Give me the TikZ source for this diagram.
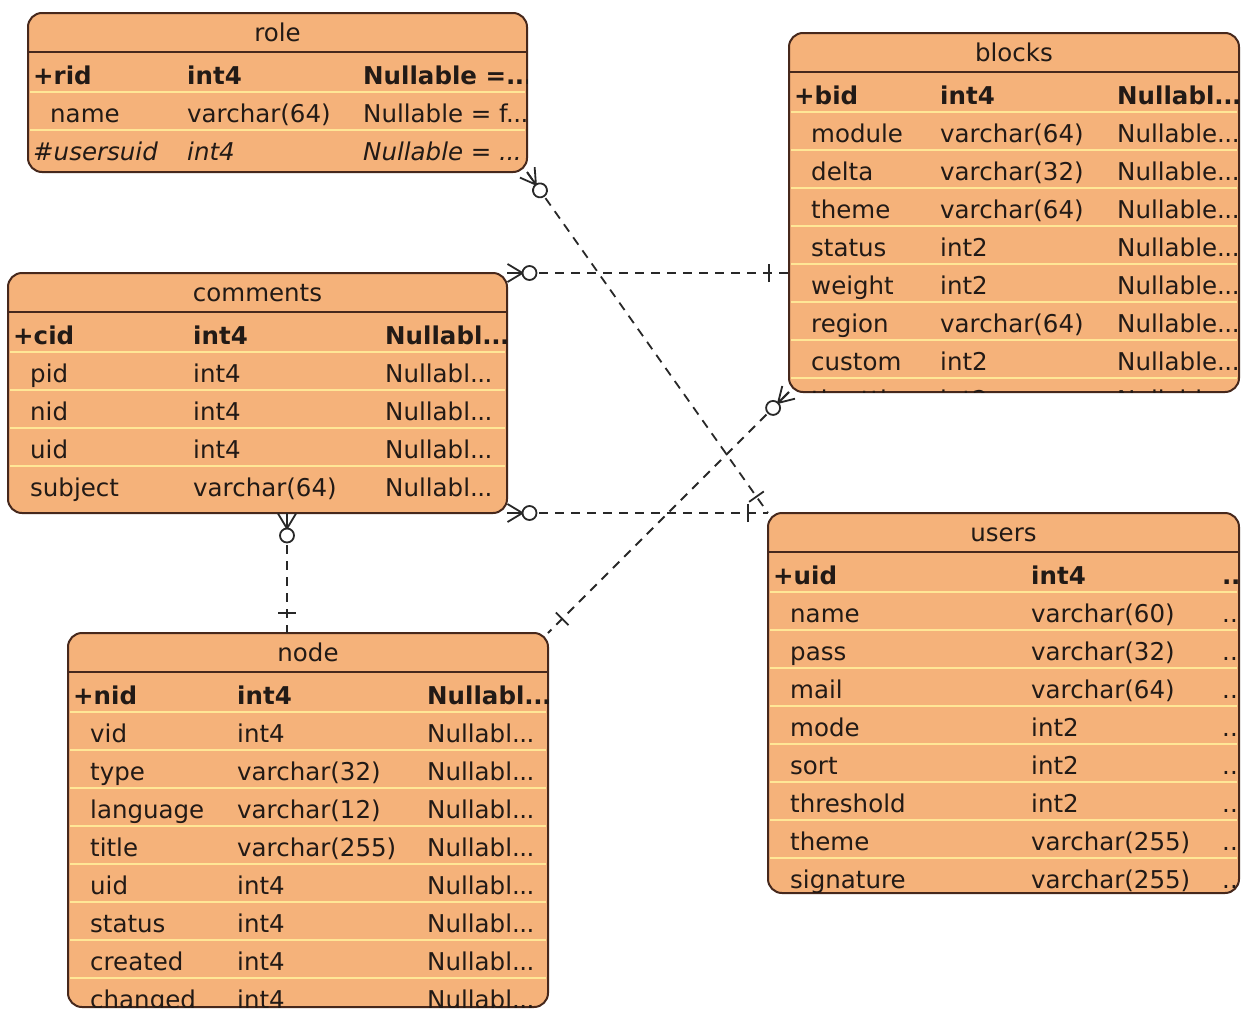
\documentclass[tikz,border=0pt]{standalone}
\usepackage{fontspec}
\setmainfont{DejaVu Sans}
\usetikzlibrary{positioning,calc,decorations.markings}

\definecolor{tblfill}{RGB}{245,178,122}
\definecolor{tbledge}{RGB}{70,40,28}
\definecolor{rowsep}{RGB}{255,230,150}
\definecolor{ink}{RGB}{34,26,22}
\definecolor{relink}{RGB}{40,40,40}

\newcommand\cellfont{\fontsize{24.5}{29}\selectfont}
\newcommand\dd{.\kern-0.5pt.\kern-0.5pt.}

% table title and the line under it
\newcommand\tbltitle[2]{%
  \node[ttl] (#1-t) at ([yshift=-28pt]#1.north) {#2};
  \draw[hline] ([yshift=-39pt]#1.north west) -- ([yshift=-39pt]#1.north east);}
% primary key row
\newcommand\tblkey[6]{%
  \node[cell,font=\cellfont\bfseries] (#1-1a) at ([xshift=5pt,yshift=-71pt]#1.north west) {#4};
  \node[cell,font=\cellfont\bfseries] (#1-1b) at ([xshift=#2pt,yshift=-71pt]#1.north west) {#5};
  \node[cell,font=\cellfont\bfseries] (#1-1c) at ([xshift=#3pt,yshift=-71pt]#1.north west) {#6};}
% any other row, with the light line above it
\newcommand\tblrow[9]{%
  \draw[rline] ([xshift=2pt,yshift={-3pt-38pt*#2}]#1.north west) -- ([xshift=-2pt,yshift={-3pt-38pt*#2}]#1.north east);
  \node[cell,#3] (#1-#2a) at ([xshift=#4pt,yshift={-33pt-38pt*#2}]#1.north west) {#7};
  \node[cell,#3] (#1-#2b) at ([xshift=#5pt,yshift={-33pt-38pt*#2}]#1.north west) {#8};
  \node[cell,#3] (#1-#2c) at ([xshift=#6pt,yshift={-33pt-38pt*#2}]#1.north west) {#9};}

\begin{document}
\begin{tikzpicture}[x=1pt, y=-1pt,
  tbl/.style={draw=tbledge, fill=tblfill, line width=2pt, rounded corners=14pt,
    anchor=north west, inner sep=0pt, outer sep=0pt},
  ttl/.style={anchor=base, inner sep=0pt, text=ink, font=\cellfont},
  cell/.style={anchor=base west, inner sep=0pt, text=ink, font=\cellfont},
  hline/.style={draw=tbledge, line width=2pt},
  rline/.style={draw=rowsep, line width=2pt},
  rel/.style={draw=relink, line width=1.8pt, dash pattern=on 9pt off 7pt},
  crow/.style={postaction={decorate, decoration={markings, mark=at position 0.5pt with {
    \draw[solid, line width=1.8pt] (0pt,9pt) -- (15pt,0pt) -- (0pt,-9pt) (0pt,0pt) -- (15pt,0pt);
    \draw[solid, line width=1.8pt, fill=white] (22pt,0pt) circle (7pt);}}}},
  onebar/.style={postaction={decorate, decoration={markings, mark=at position -20pt with {
    \draw[solid, line width=1.8pt] (0pt,-9pt) -- (0pt,9pt);}}}}]

\fill[white] (0,0) rectangle (1241,1009);
\useasboundingbox (0,0) rectangle (1241,1009);
\clip (0,0) rectangle (1241,1009);

% role
\node[tbl, minimum width=499pt, minimum height=159pt] (role) at (28,13) {};
\begin{scope}
\clip[rounded corners=14pt] (role.south west) rectangle (role.north east);
\tbltitle{role}{role}
\tblkey{role}{159}{335}{+rid}{int4}{Nullable =\dd}
\tblrow{role}{2}{}{22}{159}{335}{name}{varchar(64)}{Nullable = f\dd}
\tblrow{role}{3}{font=\cellfont\itshape}{5}{159}{335}{\#usersuid}{int4}{Nullable = \dd}
\end{scope}

% blocks
\node[tbl, minimum width=450pt, minimum height=359pt] (blocks) at (789,33) {};
\begin{scope}
\clip[rounded corners=14pt] (blocks.south west) rectangle (blocks.north east);
\tbltitle{blocks}{blocks}
\tblkey{blocks}{151}{328}{+bid}{int4}{Nullabl\dd}
\tblrow{blocks}{2}{}{22}{151}{328}{module}{varchar(64)}{Nullable\dd}
\tblrow{blocks}{3}{}{22}{151}{328}{delta}{varchar(32)}{Nullable\dd}
\tblrow{blocks}{4}{}{22}{151}{328}{theme}{varchar(64)}{Nullable\dd}
\tblrow{blocks}{5}{}{22}{151}{328}{status}{int2}{Nullable\dd}
\tblrow{blocks}{6}{}{22}{151}{328}{weight}{int2}{Nullable\dd}
\tblrow{blocks}{7}{}{22}{151}{328}{region}{varchar(64)}{Nullable\dd}
\tblrow{blocks}{8}{}{22}{151}{328}{custom}{int2}{Nullable\dd}
\tblrow{blocks}{9}{}{22}{151}{328}{throttle}{int2}{Nullable\dd}
\end{scope}

% comments
\node[tbl, minimum width=499pt, minimum height=240pt] (comments) at (8,273) {};
\begin{scope}
\clip[rounded corners=14pt] (comments.south west) rectangle (comments.north east);
\tbltitle{comments}{comments}
\tblkey{comments}{185}{377}{+cid}{int4}{Nullabl\dd}
\tblrow{comments}{2}{}{22}{185}{377}{pid}{int4}{Nullabl\dd}
\tblrow{comments}{3}{}{22}{185}{377}{nid}{int4}{Nullabl\dd}
\tblrow{comments}{4}{}{22}{185}{377}{uid}{int4}{Nullabl\dd}
\tblrow{comments}{5}{}{22}{185}{377}{subject}{varchar(64)}{Nullabl\dd}
\end{scope}

% node
\node[tbl, minimum width=480pt, minimum height=374pt] (node) at (68,633) {};
\begin{scope}
\clip[rounded corners=14pt] (node.south west) rectangle (node.north east);
\tbltitle{node}{node}
\tblkey{node}{169}{359}{+nid}{int4}{Nullabl\dd}
\tblrow{node}{2}{}{22}{169}{359}{vid}{int4}{Nullabl\dd}
\tblrow{node}{3}{}{22}{169}{359}{type}{varchar(32)}{Nullabl\dd}
\tblrow{node}{4}{}{22}{169}{359}{language}{varchar(12)}{Nullabl\dd}
\tblrow{node}{5}{}{22}{169}{359}{title}{varchar(255)}{Nullabl\dd}
\tblrow{node}{6}{}{22}{169}{359}{uid}{int4}{Nullabl\dd}
\tblrow{node}{7}{}{22}{169}{359}{status}{int4}{Nullabl\dd}
\tblrow{node}{8}{}{22}{169}{359}{created}{int4}{Nullabl\dd}
\tblrow{node}{9}{}{22}{169}{359}{changed}{int4}{Nullabl\dd}
\end{scope}

% users
\node[tbl, minimum width=471pt, minimum height=380pt] (users) at (768,513) {};
\begin{scope}
\clip[rounded corners=14pt] (users.south west) rectangle (users.north east);
\tbltitle{users}{users}
\tblkey{users}{263}{454}{+uid}{int4}{\dd}
\tblrow{users}{2}{}{22}{263}{454}{name}{varchar(60)}{..}
\tblrow{users}{3}{}{22}{263}{454}{pass}{varchar(32)}{..}
\tblrow{users}{4}{}{22}{263}{454}{mail}{varchar(64)}{..}
\tblrow{users}{5}{}{22}{263}{454}{mode}{int2}{..}
\tblrow{users}{6}{}{22}{263}{454}{sort}{int2}{..}
\tblrow{users}{7}{}{22}{263}{454}{threshold}{int2}{..}
\tblrow{users}{8}{}{22}{263}{454}{theme}{varchar(255)}{..}
\tblrow{users}{9}{}{22}{263}{454}{signature}{varchar(255)}{..}
\end{scope}

% relations
\draw[rel, crow, onebar] (role.south east) -- (users.north west);
\draw[rel, crow, onebar] (comments.north east) -- (comments.north east -| blocks.west);
\draw[rel, crow, onebar] (comments.south east) -- (users.north west);
\draw[rel, crow, onebar] ([xshift=219pt]node.north west |- comments.south) -- ([xshift=219pt]node.north west);
\draw[rel, crow, onebar] (blocks.south west) -- (node.north east);
\end{tikzpicture}
\end{document}
